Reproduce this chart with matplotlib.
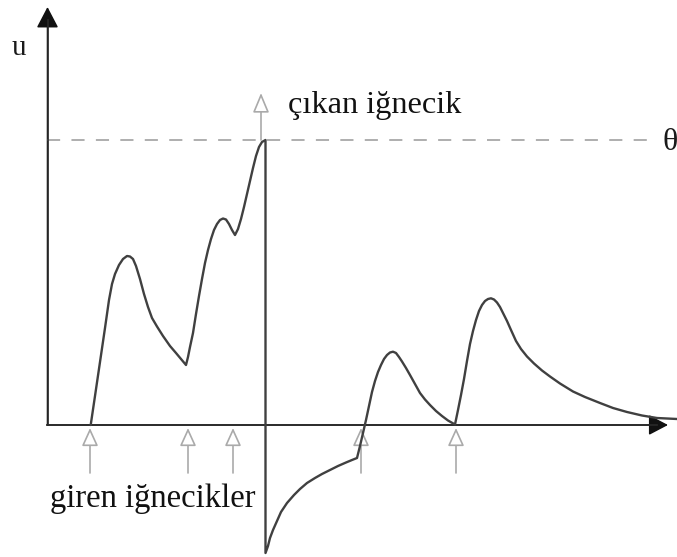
import matplotlib
matplotlib.use("Agg")
import matplotlib.pyplot as plt
from matplotlib.patches import FancyArrowPatch

# ---- data (time t, potential u; arbitrary units, threshold theta) ----
theta = 285
t_rise1 = [43.7, 48, 53, 58, 62, 65, 68, 72, 76, 80, 83, 86, 89, 93, 97, 101, 105,
           110, 116, 123, 129, 134, 139, 141, 143, 146, 149, 152, 155, 158, 161, 164,
           167, 170, 173, 176, 179, 182, 185, 188, 191, 194, 197, 200, 203, 206, 209,
           212, 215, 218.5]
u_rise1 = [0, 29, 63, 97, 125, 141, 151, 160, 166, 169, 168.5, 166, 159, 146, 131, 118, 107,
           98.5, 89, 79, 72, 66, 60, 68, 78, 92, 111, 129, 146, 162, 175, 186,
           195, 201, 205, 206.5, 205.5, 201, 195, 190, 196, 206, 218, 231, 244, 257, 269,
           278, 283, 285]
t_reset = [218.5, 221, 223, 226, 230, 234, 240, 247, 253, 260, 268, 275, 283, 291, 299,
           305, 310, 313, 316, 319, 322, 325, 328, 331, 334, 337, 340, 343, 346, 349, 352,
           355, 359, 363, 368, 373, 378, 383, 389, 395, 401, 408]
u_reset = [-128, -121, -113, -105, -96, -87, -78, -70, -64, -58, -53, -49, -45, -41, -37.5,
           -35, -33, -21, -8, 5, 19, 33, 44, 53, 60, 66, 70, 72.5, 73.3, 72, 68,
           63.5, 57, 50, 41, 32, 25.5, 20, 14, 9, 4.5, 0.5]
t_tail = [411, 414, 417, 420, 423, 426, 429, 432, 435, 438, 441, 444, 447, 450, 453, 456,
          460, 464, 469, 474, 480, 487, 495, 503, 513, 526, 538, 553, 566, 580, 595, 610, 630]
u_tail = [15, 30, 46, 64, 81, 94, 105, 114, 120, 124, 126, 126.7, 125.5, 122.5, 118, 112,
          104, 95, 84, 76, 68.5, 61.5, 54.5, 48.5, 41.5, 33.5, 28, 22, 17, 13, 9.5, 7, 6]
input_spikes = [43, 141, 186, 314, 409]
output_spike = 214
labels = {"u": "u", "theta": "θ", "out": "çıkan iğnecik", "in": "giren iğnecikler"}

plt.rcParams['font.family'] = ['Liberation Serif', 'DejaVu Serif']

fig = plt.figure(figsize=(6.77, 5.57), dpi=100)
ax = fig.add_axes([0, 0, 1, 1])
ax.set_xlim(-47, 630)
ax.set_ylim(-132, 425)
ax.axis('off')

# threshold
ax.plot([0, 603], [theta, theta], color='#999999', lw=1.1, dashes=(8.6, 7.4))

# axes with arrows
axis_col = '#2a2a2a'
ax.add_patch(FancyArrowPatch((0.5, 0), (0.5, 418), arrowstyle='-|>,head_length=13,head_width=6.8',
                             mutation_scale=1, color='#111111', lw=1.1, shrinkA=0, shrinkB=0))
ax.add_patch(FancyArrowPatch((0, 0), (621, 0), arrowstyle='-|>,head_length=12,head_width=6.3',
                             mutation_scale=1, color='#111111', lw=1.1, shrinkA=0, shrinkB=0))
ax.plot([0.5, 0.5], [0, 405], color=axis_col, lw=1.2)
ax.plot([0, 610], [0, 0], color=axis_col, lw=1.2)

# input spike arrows
for ts in input_spikes:
    ax.add_patch(FancyArrowPatch((ts, -48), (ts, -3), arrowstyle='-|>,head_length=11,head_width=5',
                                 mutation_scale=1, ec='#aaaaaa', fc='white', lw=1.2,
                                 shrinkA=0, shrinkB=0, zorder=2))
# output spike arrow
ax.add_patch(FancyArrowPatch((output_spike, theta), (output_spike, 332),
                             arrowstyle='-|>,head_length=12,head_width=5',
                             mutation_scale=1, ec='#aaaaaa', fc='white', lw=1.2,
                             shrinkA=0, shrinkB=0, zorder=2))

# membrane potential
t_all = t_rise1 + t_reset + t_tail
u_all = u_rise1 + u_reset + u_tail
ax.plot(t_all, u_all, color='#404040', lw=1.7, solid_joinstyle='round',
        solid_capstyle='round', zorder=3)

# texts
ax.text(-28, 377, labels["u"], fontsize=21, ha='center', va='center', color='#1a1a1a')
ax.text(623, 282, labels["theta"], fontsize=23, ha='center', va='center', color='#1a1a1a')
ax.text(241, 312, labels["out"], fontsize=23.3, ha='left', va='baseline', color='#111111')
ax.text(3, -82, labels["in"], fontsize=23.5, ha='left', va='baseline', color='#111111')

fig.savefig('out.png', dpi=100)
